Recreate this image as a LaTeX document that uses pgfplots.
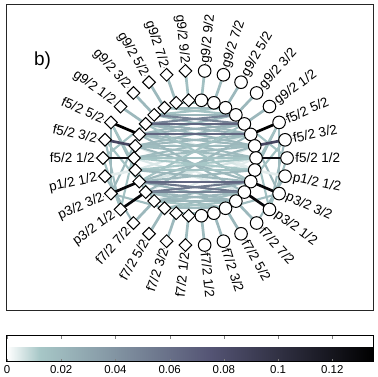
\documentclass[border=0pt]{standalone}
\usepackage{fontspec}
\setmainfont{Liberation Sans}
\usepackage{pgfplots}
\pgfplotsset{compat=1.18}
\usetikzlibrary{calc}

\newcommand{\seg}[5]{\addplot[mesh, point meta=explicit, line width=2.1bp, data cs=polar, forget plot] coordinates {(#1,#2) [#5] (#3,#4) [#5]};}
\newcommand{\rad}[2]{\addplot[mesh, point meta=explicit, line width=2.7bp, data cs=polar, forget plot] coordinates {(#1,89) [#2] (#1,59) [#2]};}
\newcommand{\labfont}{\fontsize{13.5}{13.5}\selectfont}
\newcommand{\lab}[4]{\addplot[only marks, data cs=polar, mark=*, mark size=0.1pt, mark options={draw=none, fill=none}, nodes near coords={#4},
  every node near coord/.append style={rotate=#2, anchor=#3, inner sep=0pt, font=\labfont, text=black}, forget plot] coordinates {(#1,96.8)};}

\begin{document}
\begin{tikzpicture}
\useasboundingbox (0,0) rectangle (378bp,377bp);
\begin{axis}[
  at={(6bp,66bp)}, anchor=south west,
  width=367bp, height=306bp, scale only axis,
  xmin=-182.8, xmax=172.1, ymin=-155.6, ymax=155.6,
  xtick=\empty, ytick=\empty,
  axis line style={line width=1bp, draw=black!85},
  clip=false,
  colormap={bonerev}{rgb255(0pt)=(255,255,255); rgb255(12pt)=(167,199,199); rgb255(75pt)=(84,84,116); rgb255(135pt)=(0,0,0)},
  point meta min=0, point meta max=0.135,
  colorbar horizontal,
  colorbar style={
    at={($(parent axis.south west)+(1bp,-16bp)$)}, anchor=north west,
    width=366bp, height=26bp, scale only axis,
    xtick={0,0.02,0.04,0.06,0.08,0.1,0.12},
    scaled x ticks=false,
    xticklabel style={font=\fontsize{11.5}{12}\selectfont, /pgf/number format/fixed, /pgf/number format/precision=2, /pgf/number format/assume math mode=true},
    tick align=inside, major tick length=3bp, xtick pos=both, xticklabel pos=lower,
    axis line style={line width=1bp},
  },
]
% very light chords
\seg{168}{59}{-36}{59}{0.004}
\seg{216}{59}{12}{59}{0.004}
\seg{180}{59}{-36}{59}{0.005}
\seg{192}{59}{24}{59}{0.005}
\seg{156}{59}{-12}{59}{0.005}
\seg{204}{59}{0}{59}{0.006}
\seg{144}{59}{-12}{59}{0.004}
\seg{228}{59}{0}{59}{0.004}
% light teal chords
\seg{108}{59}{72}{59}{0.015}
\seg{120}{59}{48}{59}{0.015}
\seg{132}{59}{60}{59}{0.015}
\seg{120}{59}{60}{59}{0.018}
\seg{132}{59}{48}{59}{0.022}
\seg{132}{59}{24}{59}{0.02}
\seg{156}{59}{48}{59}{0.02}
\seg{144}{59}{24}{59}{0.025}
\seg{156}{59}{36}{59}{0.025}
\seg{144}{59}{12}{59}{0.02}
\seg{168}{59}{36}{59}{0.02}
\seg{156}{59}{12}{59}{0.02}
\seg{168}{59}{24}{59}{0.02}
\seg{168}{59}{12}{59}{0.018}
\seg{156}{59}{0}{59}{0.018}
\seg{180}{59}{24}{59}{0.018}
\seg{168}{59}{0}{59}{0.018}
\seg{180}{59}{12}{59}{0.018}
\seg{168}{59}{-24}{59}{0.02}
\seg{204}{59}{12}{59}{0.02}
\seg{156}{59}{-36}{59}{0.02}
\seg{216}{59}{24}{59}{0.02}
\seg{144}{59}{-24}{59}{0.015}
\seg{204}{59}{36}{59}{0.015}
\seg{180}{59}{0}{59}{0.015}
\seg{180}{59}{-12}{59}{0.012}
\seg{192}{59}{0}{59}{0.012}
\seg{192}{59}{-12}{59}{0.015}
\seg{192}{59}{-24}{59}{0.02}
\seg{204}{59}{-12}{59}{0.02}
\seg{204}{59}{-48}{59}{0.022}
\seg{228}{59}{-24}{59}{0.022}
\seg{216}{59}{-36}{59}{0.02}
\seg{216}{59}{-48}{59}{0.02}
\seg{228}{59}{-36}{59}{0.02}
\seg{228}{59}{-48}{59}{0.022}
\seg{216}{59}{-60}{59}{0.018}
\seg{240}{59}{-36}{59}{0.018}
\seg{228}{59}{-60}{59}{0.015}
\seg{240}{59}{-48}{59}{0.015}
\seg{240}{59}{-60}{59}{0.018}
\seg{252}{59}{-72}{59}{0.012}
% same side, left
\seg{156}{89}{204}{89}{0.02}
\seg{168}{89}{216}{89}{0.018}
\seg{180}{89}{216}{89}{0.015}
\seg{192}{89}{228}{89}{0.02}
\seg{156}{89}{216}{59}{0.02}
\seg{204}{89}{156}{59}{0.02}
\seg{168}{89}{204}{59}{0.015}
\seg{216}{89}{168}{59}{0.015}
\seg{204}{89}{240}{59}{0.018}
\seg{156}{89}{228}{59}{0.015}
\seg{180}{89}{144}{59}{0.015}
% same side, right
\seg{24}{89}{-24}{89}{0.02}
\seg{12}{89}{-36}{89}{0.018}
\seg{0}{89}{-36}{89}{0.015}
\seg{-12}{89}{-48}{89}{0.02}
\seg{24}{89}{-36}{59}{0.02}
\seg{-24}{89}{24}{59}{0.02}
\seg{12}{89}{-24}{59}{0.015}
\seg{-36}{89}{12}{59}{0.015}
\seg{-24}{89}{-60}{59}{0.018}
\seg{24}{89}{-48}{59}{0.015}
\seg{0}{89}{36}{59}{0.015}
% darker chords
\seg{132}{59}{36}{59}{0.05}
\seg{144}{59}{48}{59}{0.05}
\seg{204}{59}{-36}{59}{0.055}
\seg{216}{59}{-24}{59}{0.055}
\seg{216}{59}{-36}{59}{0.05}
\seg{144}{59}{36}{59}{0.065}
\seg{156}{59}{24}{59}{0.065}
\seg{204}{59}{-24}{59}{0.065}
% radial lines left
\rad{96}{0.016}
\rad{108}{0.018}
\rad{120}{0.02}
\rad{132}{0.02}
\rad{144}{0.02}
\rad{192}{0.004}
\rad{228}{0.02}
\rad{240}{0.02}
\rad{252}{0.02}
\rad{264}{0.018}
% radial lines right
\rad{84}{0.016}
\rad{72}{0.018}
\rad{60}{0.02}
\rad{48}{0.02}
\rad{36}{0.02}
\rad{-12}{0.004}
\rad{-48}{0.02}
\rad{-60}{0.02}
\rad{-72}{0.02}
\rad{-84}{0.018}
% dark radial lines
\rad{168}{0.085}
\rad{12}{0.085}
\rad{180}{0.125}
\rad{0}{0.125}
\rad{156}{0.135}
\rad{24}{0.135}
\rad{204}{0.13}
\rad{-24}{0.13}
\rad{216}{0.13}
\rad{-36}{0.13}
% markers left (diamonds)
\addplot[only marks, data cs=polar, mark=square*, mark size=4.5bp, mark options={rotate=45, draw=black, fill=white, line width=1bp}, forget plot] coordinates {
(96,89) (108,89) (120,89) (132,89) (144,89) (156,89) (168,89) (180,89) (192,89) (204,89) (216,89) (228,89) (240,89) (252,89) (264,89)
(96,59) (108,59) (120,59) (132,59) (144,59) (156,59) (168,59) (180,59) (192,59) (204,59) (216,59) (228,59) (240,59) (252,59) (264,59)};
% markers right (circles)
\addplot[only marks, data cs=polar, mark=*, mark size=6.3bp, mark options={draw=black, fill=white, line width=1bp}, forget plot] coordinates {
(84,89) (72,89) (60,89) (48,89) (36,89) (24,89) (12,89) (0,89) (-12,89) (-24,89) (-36,89) (-48,89) (-60,89) (-72,89) (-84,89)
(84,59) (72,59) (60,59) (48,59) (36,59) (24,59) (12,59) (0,59) (-12,59) (-24,59) (-36,59) (-48,59) (-60,59) (-72,59) (-84,59)};
% labels left
\lab{96}{-84}{east}{g9/2 9/2}
\lab{108}{-72}{east}{g9/2 7/2}
\lab{120}{-60}{east}{g9/2 5/2}
\lab{132}{-48}{east}{g9/2 3/2}
\lab{144}{-36}{east}{g9/2 1/2}
\lab{156}{-24}{east}{f5/2 5/2}
\lab{168}{-12}{east}{f5/2 3/2}
\lab{180}{0}{east}{f5/2 1/2}
\lab{192}{12}{east}{p1/2 1/2}
\lab{204}{24}{east}{p3/2 3/2}
\lab{216}{36}{east}{p3/2 1/2}
\lab{228}{48}{east}{f7/2 7/2}
\lab{240}{60}{east}{f7/2 5/2}
\lab{252}{72}{east}{f7/2 3/2}
\lab{264}{84}{east}{f7/2 1/2}
% labels right
\lab{84}{84}{west}{g9/2 9/2}
\lab{72}{72}{west}{g9/2 7/2}
\lab{60}{60}{west}{g9/2 5/2}
\lab{48}{48}{west}{g9/2 3/2}
\lab{36}{36}{west}{g9/2 1/2}
\lab{24}{24}{west}{f5/2 5/2}
\lab{12}{12}{west}{f5/2 3/2}
\lab{0}{0}{west}{f5/2 1/2}
\lab{-12}{-12}{west}{p1/2 1/2}
\lab{-24}{-24}{west}{p3/2 3/2}
\lab{-36}{-36}{west}{p3/2 1/2}
\lab{-48}{-48}{west}{f7/2 7/2}
\lab{-60}{-60}{west}{f7/2 5/2}
\lab{-72}{-72}{west}{f7/2 3/2}
\lab{-84}{-84}{west}{f7/2 1/2}
\end{axis}
\node[font=\fontsize{19}{19}\selectfont, anchor=base west, inner sep=0pt] at (34bp,311bp) {b)};
\end{tikzpicture}
\end{document}
